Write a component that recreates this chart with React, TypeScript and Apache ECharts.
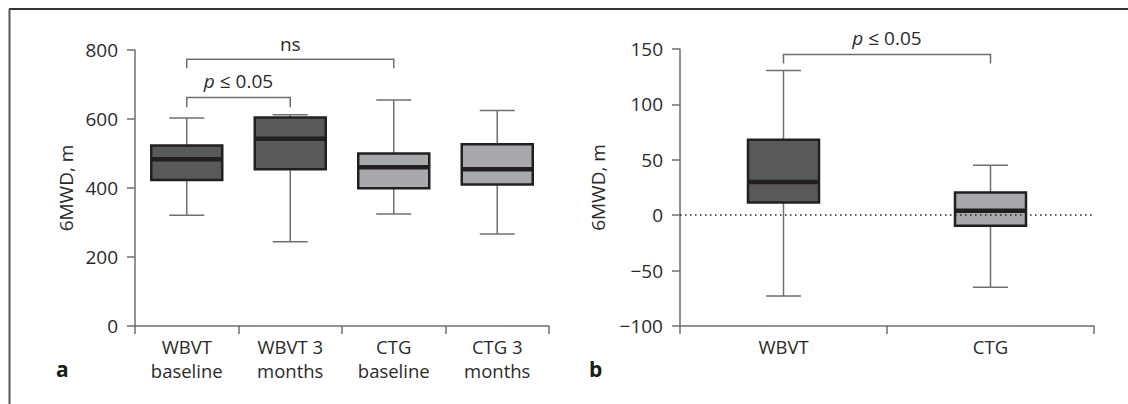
import React, { useEffect, useRef } from "react";
import * as echarts from "echarts";

// Panel a: 6MWD at baseline and 3 months
const catsA = ["WBVT\nbaseline", "WBVT 3\nmonths", "CTG\nbaseline", "CTG 3\nmonths"];
const minA = [321, 244, 325, 267];
const q1A = [423, 454, 399, 410];
const medA = [483, 543, 460, 454];
const q3A = [523, 604, 500, 527];
const maxA = [603, 612, 655, 625];
const groupA = [0, 0, 1, 1]; // 0 = WBVT (dark), 1 = CTG (light)

// Panel b: change in 6MWD
const catsB = ["WBVT", "CTG"];
const minB = [-73, -65];
const q1B = [11.5, -9.5];
const medB = [30, 4];
const q3B = [68, 20.5];
const maxB = [130.5, 45];
const groupB = [0, 1];

// Brackets: [fromCat, toCat, barValue, legEndValue, label]
const bracketsA: [number, number, number, number, string][] = [
  [0, 2, 773, 747, "ns"],
  [0, 1, 662, 634, "p"],
];
const bracketsB: [number, number, number, number, string][] = [[0, 1, 145, 137, "p"]];

const yTicksA = { min: 0, max: 800, interval: 200 };
const yTicksB = { min: -100, max: 150, interval: 50 };

const FONT = "'Open Sans', 'Noto Sans', sans-serif";
const FS = 19;
const TEXT = "#2a2a2a";
const AXIS = "#6d6e71";
const EDGE = "#231f20";
const FILLS = ["#58595b", "#a7a9ac"];

function boxRender(params: any, api: any) {
  const c = api.value(0);
  const pMin = api.coord([c, api.value(1)]);
  const pQ1 = api.coord([c, api.value(2)]);
  const pMed = api.coord([c, api.value(3)]);
  const pQ3 = api.coord([c, api.value(4)]);
  const pMax = api.coord([c, api.value(5)]);
  const g = api.value(6);
  const cx = pMed[0];
  const hw = 35.5;
  const cw = 17.5;
  const wStyle = { stroke: AXIS, lineWidth: 1.5, fill: null };
  return {
    type: "group",
    children: [
      { type: "line", shape: { x1: cx, y1: pMax[1], x2: cx, y2: pQ3[1] }, style: wStyle },
      { type: "line", shape: { x1: cx, y1: pQ1[1], x2: cx, y2: pMin[1] }, style: wStyle },
      { type: "line", shape: { x1: cx - cw, y1: pMax[1], x2: cx + cw, y2: pMax[1] }, style: wStyle },
      { type: "line", shape: { x1: cx - cw, y1: pMin[1], x2: cx + cw, y2: pMin[1] }, style: wStyle },
      {
        type: "rect",
        shape: { x: cx - hw, y: pQ3[1], width: hw * 2, height: pQ1[1] - pQ3[1] },
        style: { fill: FILLS[g], stroke: EDGE, lineWidth: 2.5 },
      },
      {
        type: "line",
        shape: { x1: cx - hw, y1: pMed[1], x2: cx + hw, y2: pMed[1] },
        style: { stroke: EDGE, lineWidth: 4.5 },
      },
    ],
  };
}

function bracketRender(params: any, api: any) {
  const a = api.coord([api.value(0), api.value(2)]);
  const b = api.coord([api.value(1), api.value(2)]);
  const leg = api.coord([api.value(0), api.value(3)]);
  const idx = params.dataIndex;
  const isA = params.seriesName === "bracketsA";
  const txt = (isA ? bracketsA : bracketsB)[idx][4];
  const style = { stroke: AXIS, lineWidth: 1.5, fill: null };
  return {
    type: "group",
    children: [
      { type: "polyline", shape: { points: [[a[0], leg[1]], [a[0], a[1]], [b[0], a[1]], [b[0], leg[1]]] }, style },
      {
        type: "text",
        x: (a[0] + b[0]) / 2,
        y: a[1] - (txt === "ns" ? 15 : 17),
        style: {
          text: txt === "ns" ? "ns" : "{i|p} ≤ 0.05",
          rich: { i: { fontStyle: "italic", fontSize: FS, fontFamily: FONT, fill: TEXT } },
          fontSize: FS,
          fontFamily: FONT,
          fill: TEXT,
          align: "center",
          verticalAlign: "middle",
        },
      },
    ],
  };
}

function makeYAxis(idx: number, t: { min: number; max: number; interval: number }, gap: number) {
  return {
    type: "value",
    gridIndex: idx,
    min: t.min,
    max: t.max,
    interval: t.interval,
    name: "6MWD, m",
    nameLocation: "middle",
    nameGap: gap,
    nameRotate: 90,
    nameTextStyle: { fontSize: FS, fontFamily: FONT, color: TEXT },
    axisLine: { show: true, onZero: false, lineStyle: { color: AXIS, width: 1.5 } },
    axisTick: { show: true, length: 8, lineStyle: { color: AXIS, width: 1.5 } },
    axisLabel: {
      fontSize: FS,
      fontFamily: FONT,
      color: TEXT,
      margin: 17,
      formatter: (v: number) => String(v).replace("-", "\u2212"),
    },
    splitLine: { show: false },
  };
}

function makeXAxis(idx: number, cats: string[]) {
  return {
    type: "category",
    gridIndex: idx,
    data: cats,
    boundaryGap: true,
    axisLine: { show: true, onZero: false, lineStyle: { color: AXIS, width: 1.5 } },
    axisTick: { show: true, length: 8, lineStyle: { color: AXIS, width: 1.5 } },
    axisLabel: { fontSize: 18.5, fontFamily: FONT, color: TEXT, lineHeight: 24, margin: 8, interval: 0 },
    splitLine: { show: false },
  };
}

export default function App() {
  const ref = useRef<HTMLDivElement>(null);
  useEffect(() => {
    if (!ref.current) return;
    const chart = echarts.init(ref.current, null, { renderer: "svg" });
    const dataA = catsA.map((_, i) => [i, minA[i], q1A[i], medA[i], q3A[i], maxA[i], groupA[i]]);
    const dataB = catsB.map((_, i) => [i, minB[i], q1B[i], medB[i], q3B[i], maxB[i], groupB[i]]);
    chart.setOption({
      animation: false,
      backgroundColor: "#ffffff",
      grid: [
        { left: 135, top: 50, width: 414, height: 276 },
        { left: 680, top: 49, width: 414, height: 277 },
      ],
      xAxis: [makeXAxis(0, catsA), makeXAxis(1, catsB)],
      yAxis: [makeYAxis(0, yTicksA, 60), makeYAxis(1, yTicksB, 73)],
      graphic: [
        { type: "line", shape: { x1: 9, y1: 9, x2: 1128, y2: 9 }, style: { stroke: "#333", lineWidth: 2 } },
        { type: "line", shape: { x1: 9.5, y1: 9, x2: 9.5, y2: 404 }, style: { stroke: "#555", lineWidth: 2 } },
        {
          type: "text",
          left: 56,
          top: 358,
          style: { text: "a", fontSize: 21, fontWeight: "bold", fontFamily: FONT, fill: "#1a1a1a" },
        },
        {
          type: "text",
          left: 589,
          top: 358,
          style: { text: "b", fontSize: 21, fontWeight: "bold", fontFamily: FONT, fill: "#1a1a1a" },
        },
      ],
      series: [
        {
          type: "line",
          xAxisIndex: 1,
          yAxisIndex: 1,
          data: [],
          z: 1,
          markLine: {
            silent: true,
            symbol: "none",
            label: { show: false },
            lineStyle: { type: [1.5, 3.5], color: EDGE, width: 1.5 },
            data: [{ yAxis: 0 }],
          },
        },
        {
          type: "custom",
          name: "boxesA",
          xAxisIndex: 0,
          yAxisIndex: 0,
          z: 3,
          renderItem: boxRender,
          encode: { x: 0, y: [1, 2, 3, 4, 5] },
          data: dataA,
        },
        {
          type: "custom",
          name: "boxesB",
          xAxisIndex: 1,
          yAxisIndex: 1,
          z: 3,
          renderItem: boxRender,
          encode: { x: 0, y: [1, 2, 3, 4, 5] },
          data: dataB,
        },
        {
          type: "custom",
          name: "bracketsA",
          xAxisIndex: 0,
          yAxisIndex: 0,
          z: 3,
          renderItem: bracketRender,
          encode: { x: [0, 1], y: [2, 3] },
          data: bracketsA.map((b) => [b[0], b[1], b[2], b[3]]),
        },
        {
          type: "custom",
          name: "bracketsB",
          xAxisIndex: 1,
          yAxisIndex: 1,
          z: 3,
          renderItem: bracketRender,
          encode: { x: [0, 1], y: [2, 3] },
          data: bracketsB.map((b) => [b[0], b[1], b[2], b[3]]),
        },
      ],
    });
    return () => chart.dispose();
  }, []);
  return (
    <div
      ref={ref}
      style={{ position: "fixed", left: 0, top: 0, width: 1128, height: 404, background: "#fff" }}
    />
  );
}
